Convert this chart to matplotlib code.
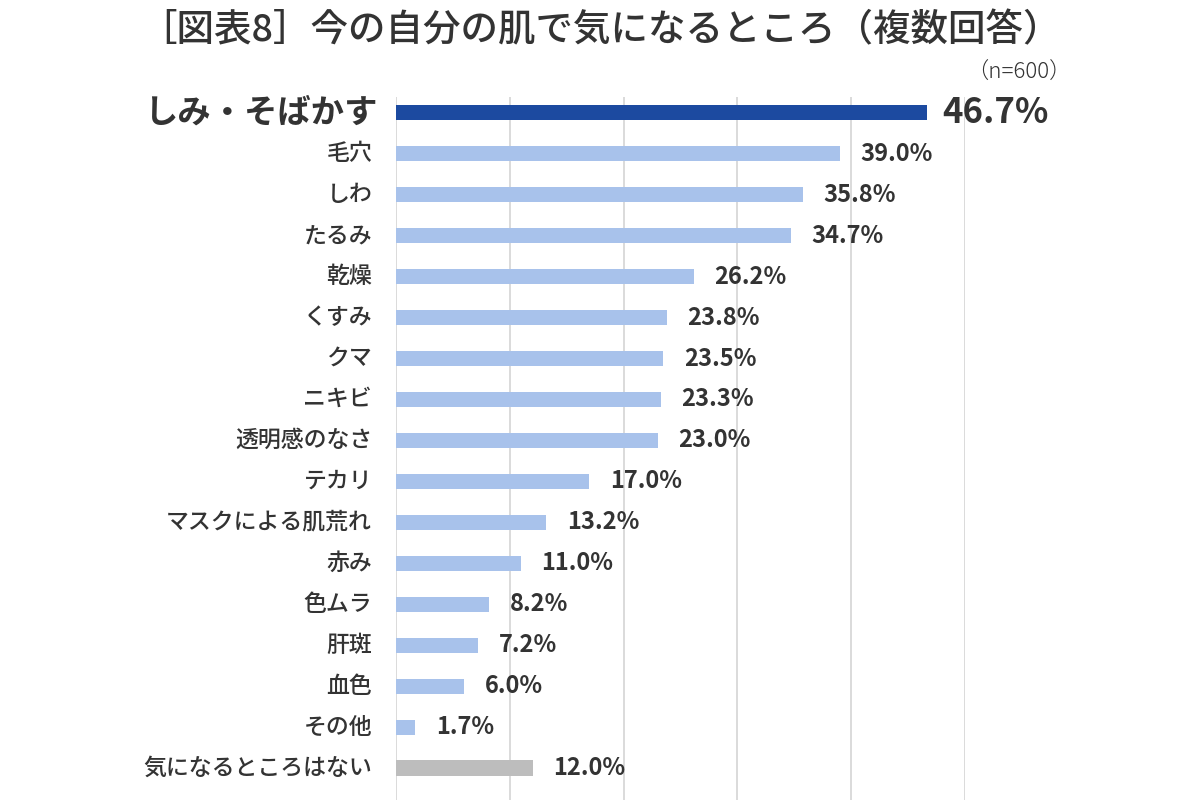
import matplotlib
matplotlib.use("Agg")
import matplotlib.pyplot as plt

plt.rcParams['font.family'] = ['Noto Sans CJK JP', 'DejaVu Sans']

categories = ["しみ・そばかす", "毛穴", "しわ", "たるみ", "乾燥", "くすみ", "クマ", "ニキビ",
              "透明感のなさ", "テカリ", "マスクによる肌荒れ", "赤み", "色ムラ", "肝斑", "血色",
              "その他", "気になるところはない"]
values = [46.7, 39.0, 35.8, 34.7, 26.2, 23.8, 23.5, 23.3, 23.0, 17.0, 13.2, 11.0, 8.2, 7.2, 6.0, 1.7, 12.0]
title = "［図表8］今の自分の肌で気になるところ（複数回答）"
note = "（n=600）"

dark_blue = "#1c4aa0"
light_blue = "#a8c2eb"
gray = "#bdbdbd"
text_col = "#333333"

colors = [dark_blue] + [light_blue] * (len(values) - 2) + [gray]

fig = plt.figure(figsize=(12, 8), dpi=100)
ax = fig.add_axes([0.33, 0.0, 0.804 - 0.33, 0.879])

y = list(range(len(values)))
ax.barh(y, values, height=0.37, color=colors, zorder=3)
ax.set_ylim(16.78, -0.39)
ax.set_xlim(0, 50)
ax.set_xticks([0, 10, 20, 30, 40, 50])
ax.grid(axis='x', color='#d4d4d4', linewidth=1.2, zorder=0)
ax.tick_params(axis='both', length=0)
ax.set_xticklabels([])
ax.set_yticks([])
for s in ax.spines.values():
    s.set_visible(False)

for i, (c, v) in enumerate(zip(categories, values)):
    if i == 0:
        ax.text(-1.6, i, c, ha='right', va='center', fontsize=24,
                fontweight='bold', color=text_col)
        ax.text(v + 1.3, i, f"{v:.1f}%", ha='left', va='center', fontsize=25,
                fontweight='bold', color=text_col, clip_on=False)
    else:
        ax.text(-2.1, i, c, ha='right', va='center', fontsize=16.5,
                fontweight='medium', color=text_col)
        ax.text(v + 1.8, i, f"{v:.1f}%", ha='left', va='center', fontsize=17,
                fontweight='bold', color=text_col, clip_on=False)

fig.text(0.5, 0.962, title, ha='center', va='center', fontsize=27,
         fontweight='medium', color=text_col)
fig.text(0.893, 0.909, note, ha='right', va='center', fontsize=16,
         fontweight='light', color=text_col)

fig.savefig("out.png", dpi=100, facecolor='white')
